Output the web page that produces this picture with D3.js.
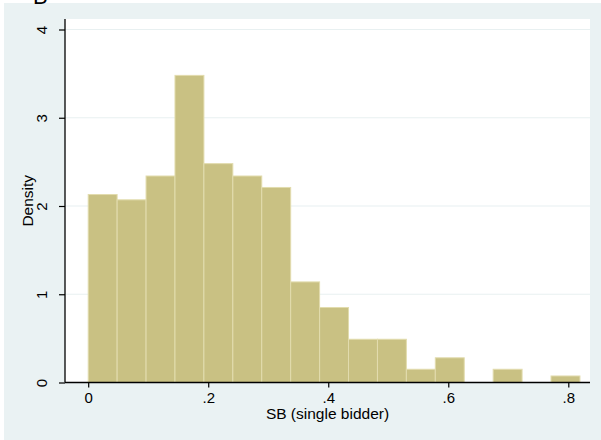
<!DOCTYPE html>
<html>
<head>
<meta charset="utf-8">
<script src="https://cdn.jsdelivr.net/npm/d3@7"></script>
<style>
  html, body { margin: 0; padding: 0; background: #ffffff; }
  svg { display: block; }
  text { font-family: "Liberation Sans", Arial, sans-serif; fill: #000; }
</style>
</head>
<body>
<svg id="chart" width="601" height="440"></svg>
<script>
// Histogram of the single-bidder share: 17 equal-width bins starting at 0
const binStart = 0;
const binWidth = 0.0482;
const densities = [2.13, 2.07, 2.34, 3.48, 2.48, 2.34, 2.21, 1.14, 0.85, 0.49, 0.49, 0.15, 0.28, 0, 0.15, 0, 0.074];

const xTicks = [0, 0.2, 0.4, 0.6, 0.8];
const xTickLabels = ["0", ".2", ".4", ".6", ".8"];
const yTicks = [0, 1, 2, 3, 4];
const yTickLabels = ["0", "1", "2", "3", "4"];

const xTitle = "SB (single bidder)";
const yTitle = "Density";
const panelLetter = "B";

const svg = d3.select("#chart");

// graph region (light blue) and plot region (white)
const outer = { left: 4, top: 3, right: 601, bottom: 440 };
const plot = { left: 65, top: 19, right: 590, bottom: 382.5 };

svg.append("rect")
  .attr("x", outer.left).attr("y", outer.top)
  .attr("width", outer.right - outer.left).attr("height", outer.bottom - outer.top)
  .attr("fill", "#eaf2f3");

svg.append("rect")
  .attr("x", plot.left).attr("y", plot.top)
  .attr("width", plot.right - plot.left).attr("height", plot.bottom - plot.top)
  .attr("fill", "#ffffff");

// panel letter, mostly above the top edge of the page
svg.append("text")
  .attr("x", 33).attr("y", 4)
  .attr("font-size", 22)
  .text(panelLetter);

const x = d3.scaleLinear().domain([0, 0.8]).range([88.2, 568.3]);
const y = d3.scaleLinear().domain([0, 4]).range([382.5, 29.5]);

// horizontal grid lines
svg.append("g")
  .selectAll("line")
  .data(yTicks.filter(d => d > 0))
  .join("line")
  .attr("x1", plot.left).attr("x2", plot.right)
  .attr("y1", d => y(d)).attr("y2", d => y(d))
  .attr("stroke", "#e8f0f1")
  .attr("stroke-width", 1.2);

// bars
const bins = densities.map((v, i) => ({
  x0: binStart + i * binWidth,
  x1: binStart + (i + 1) * binWidth,
  v
}));

svg.append("g")
  .selectAll("rect")
  .data(bins.filter(b => b.v > 0))
  .join("rect")
  .attr("x", b => x(b.x0))
  .attr("y", b => y(b.v))
  .attr("width", b => x(b.x1) - x(b.x0))
  .attr("height", b => y(0) - y(b.v))
  .attr("fill", "#c9c183")
  .attr("stroke", "#e2dcae")
  .attr("stroke-width", 1);

// x axis
const xAxis = d3.axisBottom(x)
  .tickValues(xTicks)
  .tickFormat((d, i) => xTickLabels[i])
  .tickSize(5)
  .tickPadding(5);

const gx = svg.append("g")
  .attr("transform", `translate(0,${plot.bottom})`)
  .call(xAxis);
gx.select(".domain").remove();
gx.append("line")
  .attr("x1", plot.left).attr("x2", plot.right)
  .attr("y1", 0).attr("y2", 0)
  .attr("stroke", "#000").attr("stroke-width", 1.3);
gx.selectAll(".tick line").attr("stroke", "#000").attr("stroke-width", 1.2);
gx.selectAll(".tick text")
  .attr("font-size", 15)
  .attr("font-family", "Liberation Sans, Arial, sans-serif")
  .attr("fill", "#000");

// y axis with rotated labels
const yAxis = d3.axisLeft(y)
  .tickValues(yTicks)
  .tickFormat((d, i) => yTickLabels[i])
  .tickSize(6)
  .tickPadding(6);

const gy = svg.append("g")
  .attr("transform", `translate(${plot.left},0)`)
  .call(yAxis);
gy.select(".domain").remove();
gy.append("line")
  .attr("x1", 0).attr("x2", 0)
  .attr("y1", plot.top).attr("y2", plot.bottom)
  .attr("stroke", "#000").attr("stroke-width", 1.3);
gy.selectAll(".tick line").attr("stroke", "#000").attr("stroke-width", 1.2);
gy.selectAll(".tick text")
  .attr("font-size", 15)
  .attr("font-family", "Liberation Sans, Arial, sans-serif")
  .attr("fill", "#000")
  .attr("x", null).attr("dy", null)
  .attr("text-anchor", "middle")
  .attr("transform", "translate(-18,0) rotate(-90)");

// axis titles
svg.append("text")
  .attr("x", (plot.left + plot.right) / 2)
  .attr("y", 419)
  .attr("text-anchor", "middle")
  .attr("font-size", 15.5)
  .text(xTitle);

svg.append("text")
  .attr("transform", `translate(33,${(plot.top + plot.bottom) / 2}) rotate(-90)`)
  .attr("text-anchor", "middle")
  .attr("font-size", 15.5)
  .text(yTitle);
</script>
</body>
</html>
